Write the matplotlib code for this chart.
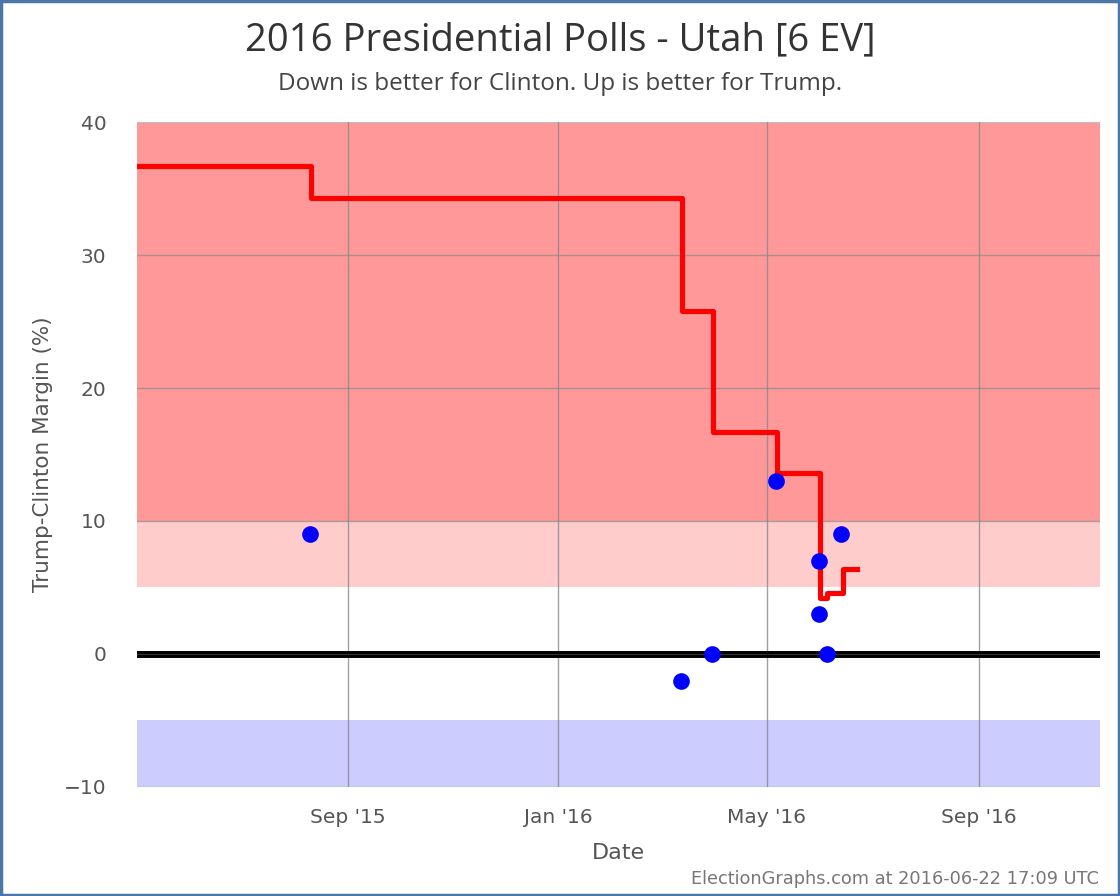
import datetime

import matplotlib
matplotlib.use('Agg')
import matplotlib.pyplot as plt
from matplotlib.patches import Rectangle

# step line of the poll average
line_dates = ['2015-05-02', '2015-08-11', '2016-03-13', '2016-03-31',
              '2016-05-07', '2016-06-01', '2016-06-05', '2016-06-14', '2016-06-22']
line_vals = [36.7, 34.3, 25.8, 16.7, 13.6, 4.2, 4.6, 6.4, 6.4]

# individual polls
poll_dates = ['2015-08-10', '2016-03-12', '2016-03-30', '2016-05-06',
              '2016-05-31', '2016-05-31', '2016-06-05', '2016-06-13']
poll_vals = [9, -2, 0, 13, 7, 3, 0, 9]

tick_dates = ['2015-09-01', '2016-01-01', '2016-05-01', '2016-09-01']
tick_labels = ["Sep '15", "Jan '16", "May '16", "Sep '16"]
y_ticks = [-10, 0, 10, 20, 30, 40]

x_start = '2015-05-02'
x_end = '2016-11-10'


def d(s):
    return datetime.datetime.strptime(s, "%Y-%m-%d")


def create_graphic():
    fig = plt.figure(figsize=(11.2, 8.96), dpi=100)
    ax = fig.add_axes([0.1223, 0.1217, 0.8598, 0.7421])

    # background bands
    ax.axhspan(10, 40, color='#ff9999', lw=0)
    ax.axhspan(5, 10, color='#ffcccc', lw=0)
    ax.axhspan(-10, -5, color='#ccccff', lw=0)

    for y in [10, 20, 30]:
        ax.axhline(y, color='#888888', lw=1, alpha=0.7, zorder=1)
    ax.axhline(40, color='#bbbbbb', lw=1.5, zorder=1)
    ax.axhline(-10, color='#bbccdd', lw=1.5, zorder=1)
    for t in tick_dates:
        ax.axvline(d(t), color='#888888', lw=1, alpha=0.8, zorder=1)

    ax.axhline(0, color='black', lw=5, zorder=2)
    ax.axhline(0, color='#333333', lw=0.8, zorder=2)

    ax.plot([d(s) for s in line_dates], line_vals, drawstyle='steps-post',
            color='#ff0000', lw=3.7, zorder=3, solid_joinstyle='round')
    ax.plot([d(s) for s in poll_dates], poll_vals, 'o', color='#0000ff',
            markersize=12, markeredgewidth=0, zorder=4)

    ax.set_xlim(d(x_start), d(x_end))
    ax.set_ylim(-10, 40)
    ax.set_xticks([d(t) for t in tick_dates])
    ax.set_xticklabels(tick_labels)
    ax.set_yticks(y_ticks)
    ax.tick_params(length=0, labelsize=14.5, colors='#555555', pad=15)
    ax.tick_params(axis='y', pad=22)
    for s in ax.spines.values():
        s.set_visible(False)

    ax.set_xlabel('Date', fontsize=16, color='#555555', labelpad=12)
    ax.set_ylabel('Trump-Clinton Margin (%)', fontsize=15.5, color='#555555', labelpad=8)

    fig.text(0.5, 0.955, '2016 Presidential Polls - Utah [6 EV]', ha='center', va='center',
             fontsize=27.5, color='#333333', family='Open Sans')
    fig.text(0.5, 0.906, 'Down is better for Clinton. Up is better for Trump.', ha='center',
             va='center', fontsize=17.5, color='#444444', family='Open Sans')
    fig.text(0.981, 0.019, 'ElectionGraphs.com at 2016-06-22 17:09 UTC', ha='right',
             va='center', fontsize=12.8, color='#777777')

    fig.patches.append(Rectangle((0.001, 0.001), 0.998, 0.998, transform=fig.transFigure,
                                 fill=False, edgecolor='#4a76a8', lw=2.5))

    fig.savefig('out.png', dpi=100)


if __name__ == '__main__':
    create_graphic()
